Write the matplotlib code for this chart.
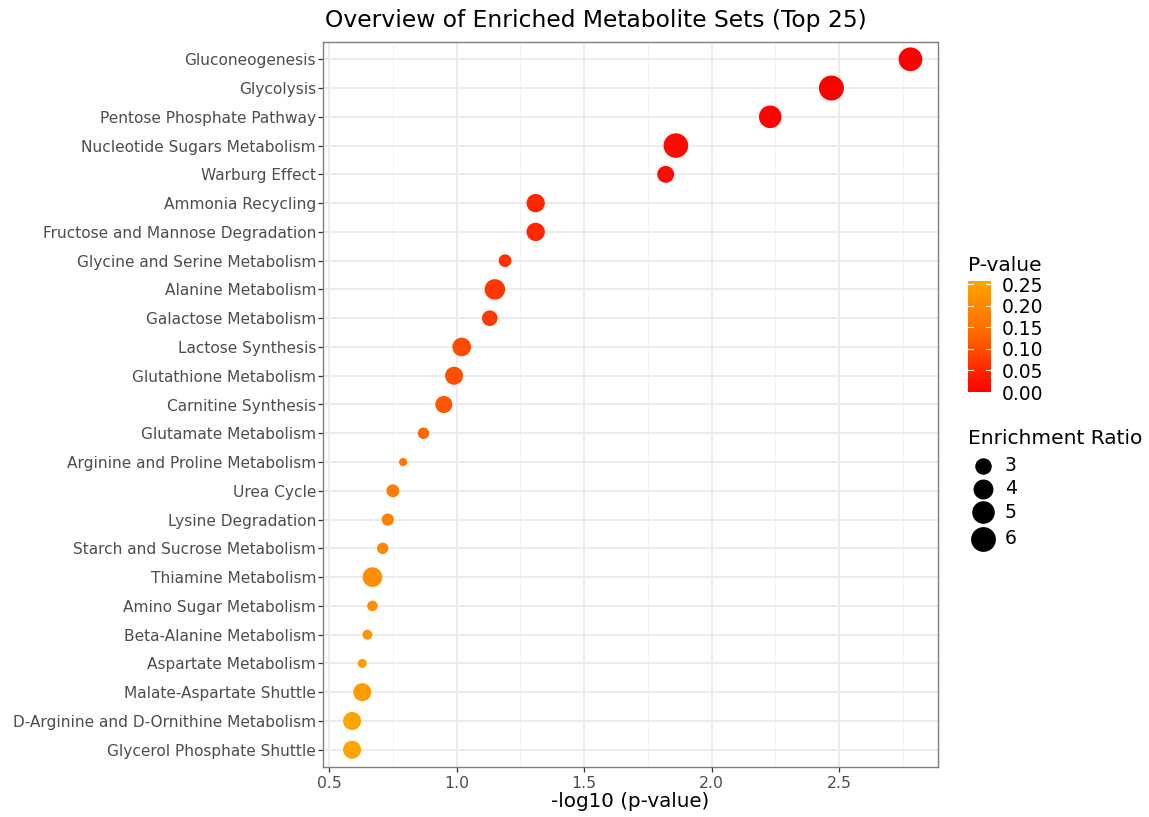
import numpy as np
import matplotlib
matplotlib.use("Agg")
import matplotlib.pyplot as plt
from matplotlib.colors import LinearSegmentedColormap, Normalize
from matplotlib.cm import ScalarMappable

# ---------------- data ----------------
pathways = [
    "Gluconeogenesis", "Glycolysis", "Pentose Phosphate Pathway",
    "Nucleotide Sugars Metabolism", "Warburg Effect", "Ammonia Recycling",
    "Fructose and Mannose Degradation", "Glycine and Serine Metabolism",
    "Alanine Metabolism", "Galactose Metabolism", "Lactose Synthesis",
    "Glutathione Metabolism", "Carnitine Synthesis", "Glutamate Metabolism",
    "Arginine and Proline Metabolism", "Urea Cycle", "Lysine Degradation",
    "Starch and Sucrose Metabolism", "Thiamine Metabolism",
    "Amino Sugar Metabolism", "Beta-Alanine Metabolism",
    "Aspartate Metabolism", "Malate-Aspartate Shuttle",
    "D-Arginine and D-Ornithine Metabolism", "Glycerol Phosphate Shuttle",
]
neg_log10_p = [2.78, 2.47, 2.23, 1.86, 1.82, 1.31, 1.31, 1.19, 1.15, 1.13,
               1.02, 0.99, 0.95, 0.87, 0.79, 0.75, 0.73, 0.71, 0.67, 0.67,
               0.65, 0.63, 0.63, 0.59, 0.59]
enrichment_ratio = [5.5, 6.1, 5.0, 5.9, 3.1, 3.5, 3.5, 2.3, 4.2, 2.8,
                    3.6, 3.4, 3.15, 2.15, 2.0, 2.33, 2.23, 2.15, 3.9, 2.08,
                    2.04, 2.01, 3.4, 3.4, 3.4]
size_legend_values = [3, 4, 5, 6]
pvalue_ticks = [0.00, 0.05, 0.10, 0.15, 0.20, 0.25]
x_ticks = [0.5, 1.0, 1.5, 2.0, 2.5]

# ---------------- derived ----------------
xvals = np.array(neg_log10_p)
pvals = 10.0 ** (-xvals)
ratios = np.array(enrichment_ratio)


def ratio_to_s(r):
    # diameter in pixels (dpi=100) -> scatter area in points^2
    d_px = 8.2 + 8.3 * np.sqrt(np.clip(np.asarray(r, float) - 2.0, 0, None))
    return (d_px * 0.72) ** 2


cmap = LinearSegmentedColormap.from_list("redorange", ["#FF0000", "#FF6400", "#FFA500"])
norm = Normalize(vmin=0.0, vmax=pvals.max())

W, H = 1149, 817
fig = plt.figure(figsize=(W / 100, H / 100), dpi=100)
fig.patch.set_facecolor("white")

# panel position in pixels
L, R, T, B = 323, 938, 42, 767
ax = fig.add_axes([L / W, 1 - B / H, (R - L) / W, (B - T) / H])

n = len(pathways)
ypos = np.arange(n)[::-1]

ax.set_axisbelow(True)
ax.scatter(xvals, ypos, s=ratio_to_s(ratios), c=pvals, cmap=cmap, norm=norm,
           linewidths=0, zorder=3)

ax.set_xlim(0.476, 2.888)
ax.set_ylim(-0.6, n - 1 + 0.6)
ax.set_yticks(ypos)
ax.set_yticklabels(pathways)
ax.set_xticks(x_ticks)
ax.set_xticklabels([f"{v:.1f}" for v in x_ticks])
ax.set_xticks([0.75, 1.25, 1.75, 2.25, 2.75], minor=True)

ax.grid(which="major", color="#EBEBEB", linewidth=1.3)
ax.grid(which="minor", axis="x", color="#F2F2F2", linewidth=0.7)
ax.tick_params(axis="y", which="major", length=3.5, width=0.9, color="#333333",
               labelcolor="#4D4D4D", labelsize=11.1, pad=1.5)
ax.tick_params(axis="x", which="major", length=3.5, width=0.9, color="#333333",
               labelcolor="#4D4D4D", labelsize=11.3, pad=3)
ax.tick_params(axis="both", which="minor", length=0)
for sp in ax.spines.values():
    sp.set_color("#7F7F7F")
    sp.set_linewidth(1.0)

ax.set_xlabel("-log10 (p-value)", fontsize=14.3, color="black", labelpad=1)

fig.text(596 / W, 1 - 20 / H, "Overview of Enriched Metabolite Sets (Top 25)",
         ha="center", va="center", fontsize=16.8, color="black")

# ---------------- colorbar legend ----------------
cb_l, cb_r, cb_t, cb_b = 968, 991, 281, 392
cax = fig.add_axes([cb_l / W, 1 - cb_b / H, (cb_r - cb_l) / W, (cb_b - cb_t) / H])
cb = fig.colorbar(ScalarMappable(norm=norm, cmap=cmap), cax=cax)
cb.outline.set_visible(False)
cb.set_ticks(pvalue_ticks)
cb.set_ticklabels([f"{v:.2f}" for v in pvalue_ticks])
cax.tick_params(length=0, labelsize=13.5, labelcolor="black", pad=8)
for t in pvalue_ticks:
    cax.plot([0, 0.2], [t, t], color="white", lw=0.8, transform=cax.get_yaxis_transform())
    cax.plot([0.8, 1.0], [t, t], color="white", lw=0.8, transform=cax.get_yaxis_transform())
fig.text(968 / W, 1 - 265 / H, "P-value", ha="left", va="center", fontsize=14.5)

# ---------------- size legend ----------------
fig.text(968 / W, 1 - 438 / H, "Enrichment Ratio", ha="left", va="center", fontsize=14.5)
lax = fig.add_axes([960 / W, 1 - 555 / H, 80 / W, 105 / H])
lax.set_xlim(0, 80)
lax.set_ylim(555, 450)
lax.axis("off")
leg_y = [466, 489, 512, 539]
for v, yy in zip(size_legend_values, leg_y):
    lax.scatter([23], [yy], s=ratio_to_s(v), color="black", linewidths=0)
    lax.text(45, yy, str(v), ha="left", va="center", fontsize=13.5)

fig.savefig("out.png", dpi=100, facecolor="white")
